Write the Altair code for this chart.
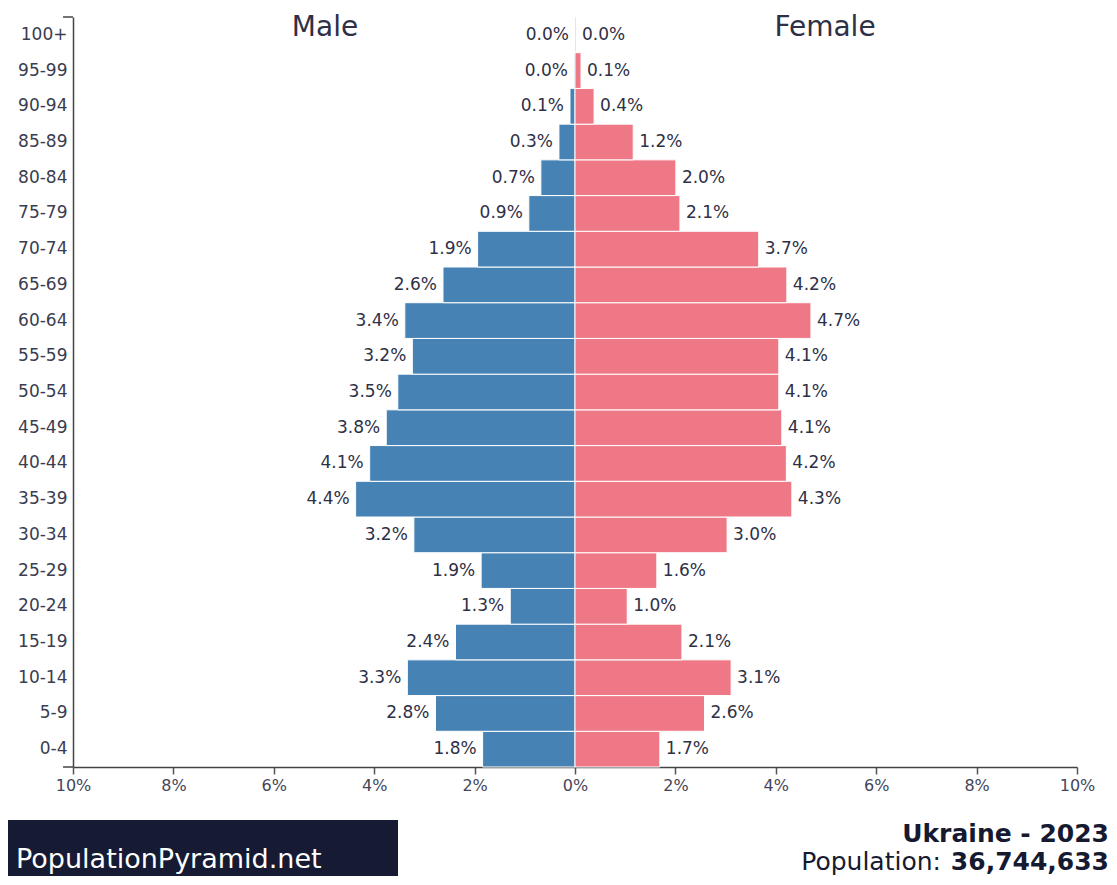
import altair as alt
import pandas as pd

ages = ["0-4", "5-9", "10-14", "15-19", "20-24", "25-29", "30-34", "35-39",
        "40-44", "45-49", "50-54", "55-59", "60-64", "65-69", "70-74", "75-79",
        "80-84", "85-89", "90-94", "95-99", "100+"]
male = [1.84, 2.78, 3.34, 2.38, 1.29, 1.87, 3.21, 4.37, 4.09, 3.76, 3.53,
        3.24, 3.39, 2.63, 1.94, 0.92, 0.68, 0.32, 0.10, 0.02, 0.00]
female = [1.69, 2.58, 3.11, 2.13, 1.04, 1.63, 3.03, 4.32, 4.21, 4.12, 4.06,
          4.06, 4.70, 4.22, 3.66, 2.09, 2.01, 1.16, 0.38, 0.12, 0.02]
x_ticks = [-10, -8, -6, -4, -2, 0, 2, 4, 6, 8, 10]
country_title = "Ukraine - 2023"
population_label = "Population:"
population_value = "36,744,633"
brand = "PopulationPyramid.net"

FONT = "DejaVu Sans"
TXT = "#2e3046"
BLUE = "#4682b4"
PINK = "#ee7885"

rows = []
for a, m, f in zip(ages, male, female):
    rows.append({"age": a, "sex": "Male", "value": m, "signed": -m, "zero": 0})
    rows.append({"age": a, "sex": "Female", "value": f, "signed": f, "zero": 0})
df = pd.DataFrame(rows)

order = list(reversed(ages))
W, H = 1004, 750

xscale = alt.Scale(domain=[-10, 10], nice=False, zero=False)
yenc = alt.Y("age:N", sort=order, scale=alt.Scale(paddingInner=0, paddingOuter=0),
             axis=alt.Axis(title=None, ticks=False, labelFontSize=17, labelFont=FONT,
                           labelColor="#3a3c50", labelPadding=6, domainColor="#444",
                           domainWidth=1.5))

base = alt.Chart(df)

bars = base.mark_bar(stroke="white", strokeWidth=1).encode(
    x=alt.X("signed:Q", scale=xscale,
            axis=alt.Axis(values=x_ticks, labelExpr="abs(datum.value) + '%'", title=None,
                          grid=False, tickSize=7, tickColor="#555", tickWidth=1.5,
                          domainColor="#444", domainWidth=1.5, labelFontSize=16,
                          labelFont=FONT, labelColor="#44465a", labelPadding=3,
                          labelFlush=False)),
    x2="zero:Q",
    y=yenc,
    color=alt.Color("sex:N", scale=alt.Scale(domain=["Male", "Female"], range=[BLUE, PINK]),
                    legend=None),
)

lab_m = base.transform_filter(alt.datum.sex == "Male").transform_calculate(
    lbl="format(datum.value, '.1f') + '%'"
).mark_text(
    align="right", baseline="middle", dx=-6, fontSize=17, font=FONT, color=TXT
).encode(x="signed:Q", y=alt.Y("age:N", sort=order), text="lbl:N")

lab_f = base.transform_filter(alt.datum.sex == "Female").transform_calculate(
    lbl="format(datum.value, '.1f') + '%'"
).mark_text(
    align="left", baseline="middle", dx=6, fontSize=17, font=FONT, color=TXT
).encode(x="signed:Q", y=alt.Y("age:N", sort=order), text="lbl:N")

one = alt.Chart(pd.DataFrame({"k": [0]}))

outer_ticks = one.mark_rule(color="#444", strokeWidth=1.5).encode(
    x=alt.value(-10), x2=alt.value(0), y=alt.value(0)
) + one.mark_rule(color="#444", strokeWidth=1.5).encode(
    x=alt.value(-10), x2=alt.value(0), y=alt.value(H)
)

t_male = one.mark_text(text="Male", fontSize=28, font=FONT, color=TXT, align="center",
                       baseline="alphabetic").encode(x=alt.value(252), y=alt.value(19))
t_female = one.mark_text(text="Female", fontSize=28, font=FONT, color=TXT, align="center",
                         baseline="alphabetic").encode(x=alt.value(752), y=alt.value(19))

RX = 1036
t_country = one.mark_text(text=country_title, fontSize=25, fontWeight="bold", font=FONT,
                          color="#161a30", align="right", baseline="alphabetic").encode(
    x=alt.value(RX), y=alt.value(825))
t_popval = one.mark_text(text=population_value, fontSize=25, fontWeight="bold", font=FONT,
                         color="#161a30", align="right", baseline="alphabetic").encode(
    x=alt.value(RX), y=alt.value(853))
t_poplab = one.mark_text(text=population_label, fontSize=25, font=FONT,
                         color="#161a30", align="right", baseline="alphabetic").encode(
    x=alt.value(RX - 168), y=alt.value(853))

box = one.mark_rect(color="#161a33").encode(
    x=alt.value(-65), x2=alt.value(325), y=alt.value(803), y2=alt.value(880))
t_brand = one.mark_text(text=brand, fontSize=27, font=FONT, color="white", align="left",
                        baseline="alphabetic").encode(x=alt.value(-57), y=alt.value(851))

chart = alt.layer(
    bars, lab_m, lab_f, outer_ticks, t_male, t_female, t_country, t_popval, t_poplab,
    box, t_brand
).properties(
    width=W, height=H,
    autosize=alt.AutoSizeParams(type="none"),
    padding={"left": 65, "top": 9, "right": 32, "bottom": 109},
).configure_view(stroke=None)

chart.save("out.html", embed_options={"renderer": "svg", "actions": False})
